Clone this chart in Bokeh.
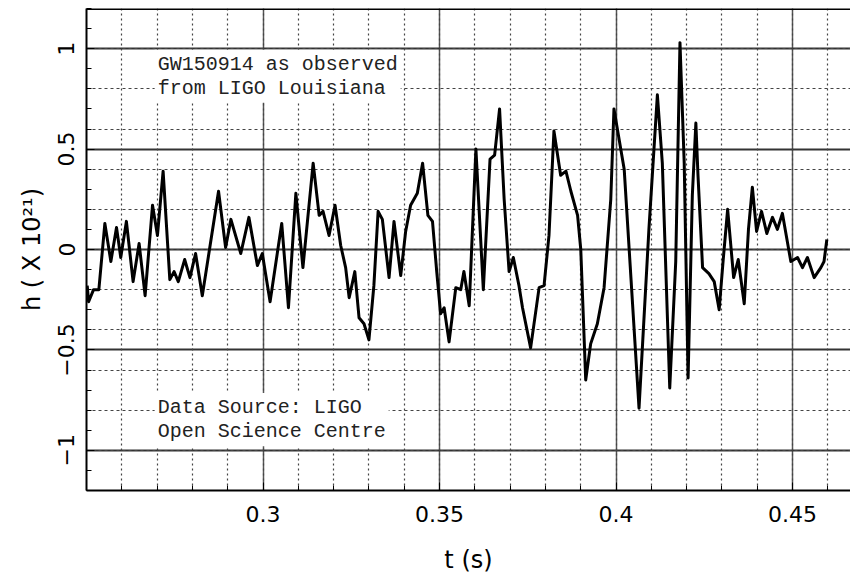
from bokeh.plotting import figure
from bokeh.models import FixedTicker, Grid, Label, Span, Range1d
from bokeh.embed import file_html
from bokeh.resources import INLINE

# Strain data (t in s, h in units of 1e-21)
t = [0.2502, 0.2506, 0.2520, 0.2535, 0.2552, 0.2569, 0.2585, 0.2597, 0.2613, 0.2632,
     0.2649, 0.2666, 0.2687, 0.2701, 0.2717, 0.2736, 0.2748, 0.2760, 0.2778, 0.2793,
     0.2809, 0.2828, 0.2874, 0.2894, 0.2909, 0.2937, 0.2960, 0.2984, 0.2998, 0.3020,
     0.3053, 0.3072, 0.3093, 0.3113, 0.3142, 0.3159, 0.3170, 0.3187, 0.3204, 0.3220,
     0.3234, 0.3244, 0.3260, 0.3272, 0.3286, 0.3300, 0.3314, 0.3326, 0.3338, 0.3357,
     0.3371, 0.3390, 0.3404, 0.3418, 0.3437, 0.3452, 0.3467, 0.3480, 0.3492, 0.3503,
     0.3513, 0.3527, 0.3546, 0.3560, 0.3569, 0.3584, 0.3603, 0.3624, 0.3643, 0.3656,
     0.3670, 0.3683, 0.3697, 0.3709, 0.3725, 0.3735, 0.3758, 0.3782, 0.3796, 0.3810,
     0.3824, 0.3843, 0.3858, 0.3872, 0.3891, 0.3900, 0.3914, 0.3928, 0.3947, 0.3966,
     0.3985, 0.3994, 0.4023, 0.4065, 0.4093, 0.4117, 0.4131, 0.4152, 0.4169, 0.4181,
     0.4193, 0.4204, 0.4216, 0.4226, 0.4232, 0.4245, 0.4263, 0.4278, 0.4292, 0.4303,
     0.4316, 0.4333, 0.4346, 0.4363, 0.4375, 0.4386, 0.4398, 0.4412, 0.4427, 0.4443,
     0.4457, 0.4471, 0.4495, 0.4514, 0.4528, 0.4542, 0.4561, 0.4580, 0.4589, 0.4597]
h = [-0.18, -0.26, -0.20, -0.20, 0.13, -0.06, 0.11, -0.04, 0.14, -0.16,
     0.03, -0.23, 0.22, 0.07, 0.39, -0.15, -0.11, -0.16, -0.05, -0.14,
     -0.02, -0.23, 0.29, 0.01, 0.15, -0.02, 0.16, -0.08, -0.02, -0.26,
     0.13, -0.29, 0.28, -0.09, 0.43, 0.17, 0.19, 0.07, 0.22, 0.02,
     -0.09, -0.24, -0.11, -0.34, -0.37, -0.45, -0.18, 0.19, 0.15, -0.14,
     0.14, -0.13, 0.09, 0.22, 0.28, 0.43, 0.17, 0.14, -0.11, -0.32,
     -0.29, -0.46, -0.19, -0.20, -0.11, -0.28, 0.50, -0.20, 0.45, 0.47,
     0.70, 0.25, -0.11, -0.04, -0.18, -0.29, -0.49, -0.19, -0.18, 0.07,
     0.59, 0.37, 0.39, 0.29, 0.17, 0.00, -0.65, -0.47, -0.37, -0.19,
     0.25, 0.70, 0.40, -0.79, 0.10, 0.77, 0.43, -0.69, -0.06, 1.03,
     0.43, -0.64, 0.27, 0.63, 0.37, -0.09, -0.12, -0.16, -0.30, -0.06,
     0.20, -0.14, -0.05, -0.27, 0.10, 0.31, 0.09, 0.19, 0.08, 0.16,
     0.10, 0.18, -0.06, -0.04, -0.09, -0.04, -0.14, -0.09, -0.06, 0.05]

x_ticks = [0.3, 0.35, 0.4, 0.45]
x_labels = ["0.3", "0.35", "0.4", "0.45"]
y_ticks = [-1, -0.5, 0, 0.5, 1]
y_labels = ["\u22121", "\u22120.5", "0", "0.5", "1"]
x_minor = [round(0.25 + 0.01 * i, 2) for i in range(23)]
y_minor = [round(-1.2 + 0.1 * i, 1) for i in range(25)]
y_dotted = [round(-1.2 + 0.2 * i, 1) for i in range(13)]

p = figure(width=850, height=576,
           x_range=Range1d(0.25, 0.4664), y_range=Range1d(-1.2, 1.2),
           output_backend="svg", toolbar_location=None,
           min_border_left=86, min_border_right=0, min_border_top=8, min_border_bottom=82)
p.outline_line_color = None
p.background_fill_color = "white"
p.border_fill_color = "white"

# solid major grids
p.xgrid.ticker = FixedTicker(ticks=x_ticks)
p.xgrid.grid_line_color = "#555555"
p.xgrid.grid_line_width = 1.5
p.ygrid.ticker = FixedTicker(ticks=y_ticks)
p.ygrid.grid_line_color = "#333333"
p.ygrid.grid_line_width = 2.2

# dotted grids
gx = Grid(dimension=0, ticker=FixedTicker(ticks=x_minor), grid_line_color="#444444",
          grid_line_width=1.2, grid_line_dash="2 3")
gy = Grid(dimension=1, ticker=FixedTicker(ticks=y_dotted), grid_line_color="#444444",
          grid_line_width=1.2, grid_line_dash="3 3")
p.add_layout(gx)
p.add_layout(gy)

# axes
p.xaxis.ticker = FixedTicker(ticks=x_ticks, minor_ticks=x_minor)
p.xaxis.major_label_overrides = dict(zip(x_ticks, x_labels))
p.yaxis.ticker = FixedTicker(ticks=y_ticks, minor_ticks=y_minor)
p.yaxis.major_label_overrides = dict(zip(y_ticks, y_labels))
p.yaxis.major_label_orientation = "vertical"
for ax in (p.xaxis[0], p.yaxis[0]):
    ax.axis_line_color = "black"
    ax.axis_line_width = 2
    ax.major_tick_in = 8
    ax.major_tick_out = 0
    ax.minor_tick_in = 5
    ax.minor_tick_out = 0
    ax.major_tick_line_color = "black"
    ax.minor_tick_line_color = "black"
    ax.major_label_text_font = "DejaVu Sans"
    ax.major_label_text_font_size = "22px"
    ax.major_label_text_color = "black"
    ax.axis_label_text_font = "DejaVu Sans"
    ax.axis_label_text_font_size = "24px"
    ax.axis_label_text_font_style = "normal"
    ax.axis_label_text_color = "black"
p.xaxis.axis_label = "t (s)"
p.yaxis.axis_label = "h ( X 10\u00b2\u00b9)"
p.xaxis.major_label_standoff = 15
p.xaxis.axis_label_standoff = 21
p.yaxis.major_label_standoff = 12
p.yaxis.axis_label_standoff = 10

# top border
p.add_layout(Span(location=1.197, dimension="width", line_color="black", line_width=2))

p.line(t, h, line_color="black", line_width=3, line_join="round")

p.add_layout(Label(x=0.2693, y=0.995, text="GW150914 as observed\nfrom LIGO Louisiana",
                   text_font="Liberation Mono", text_font_size="20px", text_color="#222222",
                   text_baseline="top", text_line_height=1.05,
                   background_fill_color="white", padding=3))
p.add_layout(Label(x=0.2693, y=-0.715, text="Data Source: LIGO\nOpen Science Centre",
                   text_font="Liberation Mono", text_font_size="20px", text_color="#222222",
                   text_baseline="top", text_line_height=1.05,
                   background_fill_color="white", padding=3))

open("out.html", "w").write(file_html(p, INLINE))
